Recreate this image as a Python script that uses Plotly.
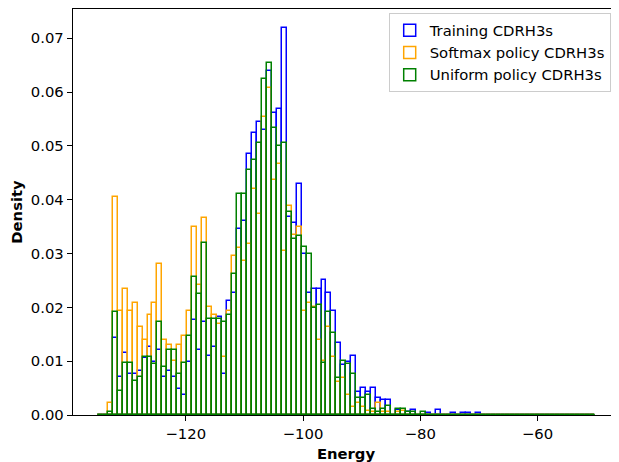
import numpy as np
import plotly.graph_objects as go

# Shared histogram bin edges (100 bins)
bin_start = -135.0
bin_end = -50.2
n_bins = 100

series_names = ["Training CDRH3s", "Softmax policy CDRH3s", "Uniform policy CDRH3s"]
series_colors = ["#0000ff", "#ffa500", "#008000"]

# Densities per bin
training = [
    0, 0, 0, .0144, .0071, .0116, .0077, .0077, .0082, .0105,
    .0127, .0099, .0121, .0071, .0082, .0071, .0048, .0037, .0099, .0177,
    .0121, .0172, .0110, .0127, .0183, .0076, .0211, .0227, .0345, .0361,
    .0485, .0524, .0545, .0529, .0640, .0562, .0568, .0719, .0367, .0356,
    .0429, .0299, .0227, .0234, .0234, .0250, .0227, .0194, .0133, .0093,
    .0099, .0110, .0043, .0050, .0043, .0050, .0032, .0028, .0028, 0,
    .0010, 0, .0005, .0010, 0, 0, .0004, 0, .0010, 0,
    0, .0004, 0, .0004, .0004, 0, .0004, 0, 0, 0,
    0, 0, 0, 0, 0, 0, 0, 0, 0, 0,
    0, 0, 0, 0, 0, 0, 0, 0, 0, 0,
]
softmax = [
    0, 0, .0023, .0405, .0194, .0234, .0194, .0209, .0163, .0139,
    .0186, .0209, .0280, .0139, .0131, .0100, .0131, .0147, .0194, .0350,
    .0241, .0366, .0201, .0186, .0170, .0108, .0194, .0296, .0311, .0287,
    .0318, .0420, .0374, .0553, .0607, .0436, .0467, .0304, .0389, .0335,
    .0350, .0194, .0209, .0201, .0139, .0100, .0163, .0108, .0061, .0068,
    .0037, .0014, .0022, .0014, .0007, .0006, .0022, .0005, .0005, 0,
    .0005, .0008, 0, 0, 0, 0, 0, 0, 0, 0,
    0, 0, 0, 0, 0, 0, 0, 0, 0, 0,
    0, 0, 0, 0, 0, 0, 0, 0, 0, 0,
    0, 0, 0, 0, 0, 0, 0, 0, 0, 0,
]
uniform = [
    0, 0, .0005, .0191, .0044, .0096, .0096, .0064, .0070, .0108,
    .0108, .0095, .0172, .0089, .0121, .0121, .0076, .0096, .0147, .0256,
    .0224, .0320, .0178, .0178, .0178, .0172, .0185, .0262, .0410, .0410,
    .0455, .0474, .0506, .0625, .0654, .0533, .0500, .0506, .0377, .0327,
    .0333, .0313, .0300, .0198, .0204, .0096, .0192, .0153, .0069, .0101,
    .0095, .0076, .0031, .0031, .0037, .0011, .0006, .0011, .0017, 0,
    .0012, .0012, .0005, .0005, 0, .0005, 0, 0, 0, 0,
    0, 0, 0, 0, 0, 0, 0, 0, 0, 0,
    0, 0, 0, 0, 0, 0, 0, 0, 0, 0,
    0, 0, 0, 0, 0, 0, 0, 0, 0, 0,
]

x_tick_vals = [-120, -100, -80, -60]
x_tick_text = ["\u2212120", "\u2212100", "\u221280", "\u221260"]
y_tick_vals = [0.00, 0.01, 0.02, 0.03, 0.04, 0.05, 0.06, 0.07]

edges = np.linspace(bin_start, bin_end, n_bins + 1)
centers = (edges[:-1] + edges[1:]) / 2
width = edges[1] - edges[0]

fig = go.Figure()
for name, color, vals in zip(series_names, series_colors, [training, softmax, uniform]):
    fig.add_trace(go.Bar(
        x=centers, y=vals, width=width, name=name,
        marker=dict(color="rgba(0,0,0,0)", line=dict(color=color, width=1.5)),
    ))

# zero-height green bins along baseline
fig.add_trace(go.Scatter(x=[edges[0], edges[-1]], y=[0, 0], mode="lines",
                         line=dict(color="#008000", width=1.5), showlegend=False,
                         hoverinfo="skip", cliponaxis=False))

font = dict(family="DejaVu Sans", size=14.8, color="black")
fig.update_layout(
    width=611, height=454,
    margin=dict(l=65.3, r=0, t=1, b=46.5, autoexpand=False),
    plot_bgcolor="white", paper_bgcolor="white",
    barmode="overlay", bargap=0,
    font=font,
    showlegend=True,
    legend=dict(x=0.9848, y=0.99, xanchor="right", yanchor="top",
                bgcolor="rgba(255,255,255,0.8)", bordercolor="#cccccc", borderwidth=1,
                font=dict(family="DejaVu Sans", size=14.8, color="black"),
                traceorder="normal"),
)
fig.update_xaxes(
    range=[-139.23, -46.1], tickvals=x_tick_vals, ticktext=x_tick_text,
    showline=True, linecolor="black", linewidth=1.2, mirror=True,
    ticks="outside", ticklen=5.2, tickwidth=1.2, tickcolor="black",
    showgrid=False, zeroline=False, automargin=False,
    title=dict(text="<b>Energy</b>", font=font),
)
fig.update_yaxes(
    range=[0, 0.07544], tickvals=y_tick_vals, tickformat=".2f",
    showline=True, linecolor="black", linewidth=1.2, mirror=True,
    ticks="outside", ticklen=5.2, tickwidth=1.2, tickcolor="black",
    showgrid=False, zeroline=False, automargin=False,
    title=dict(text="<b>Density</b>", font=font),
)

fig.write_html("out.html")
